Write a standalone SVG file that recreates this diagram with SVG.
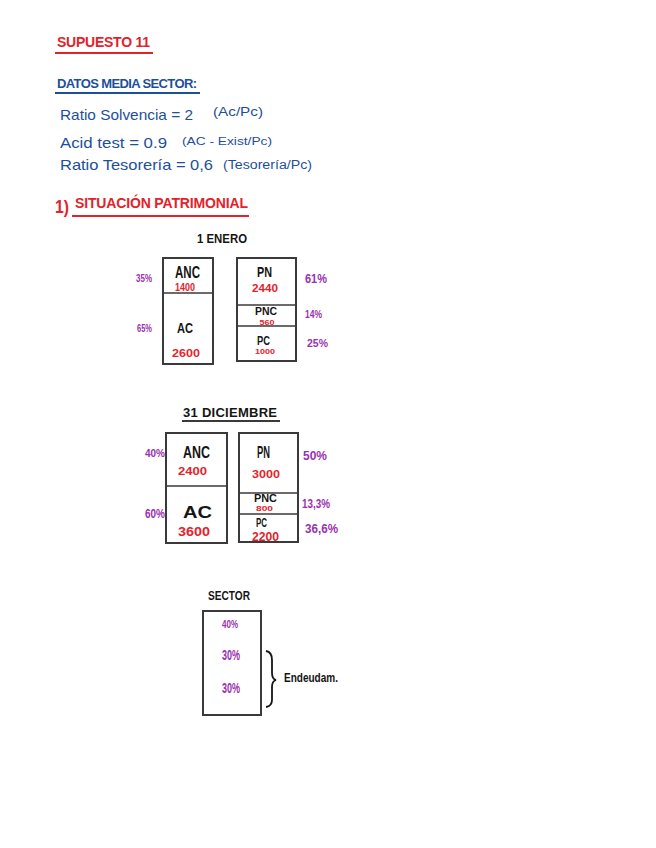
<svg xmlns="http://www.w3.org/2000/svg" width="656" height="848" viewBox="0 0 656 848">
<style>
text{font-family:"Liberation Sans","DejaVu Sans",sans-serif;}
.red{fill:#e3222b;}
.blue{fill:#1d4f9c;}
.blk{fill:#151515;}
.pur{fill:#9a30b0;}
.b{font-weight:bold;}
.box{fill:none;stroke:#3a3a3a;stroke-width:2;}
.ln{stroke:#3a3a3a;stroke-width:1.6;}
.c{text-anchor:middle;}
</style>
<rect width="656" height="848" fill="#ffffff"/>

<g id="header">
<text x="57" y="47" font-size="14" class="red b" textLength="93" lengthAdjust="spacing">SUPUESTO 11</text>
<line x1="55" y1="53" x2="153" y2="53" stroke="#e3222b" stroke-width="2"/>
<text x="57" y="88" font-size="13" class="blue b" textLength="140" lengthAdjust="spacing">DATOS MEDIA SECTOR:</text>
<line x1="55" y1="93" x2="200" y2="93" stroke="#1d4f9c" stroke-width="2"/>
<text x="60" y="120" font-size="15" class="blue" textLength="133" lengthAdjust="spacingAndGlyphs">Ratio Solvencia = 2</text>
<text x="213" y="116" font-size="12" class="blue" textLength="50" lengthAdjust="spacingAndGlyphs">(Ac/Pc)</text>
<text x="60" y="148" font-size="15" class="blue" textLength="107" lengthAdjust="spacingAndGlyphs">Acid test = 0.9</text>
<text x="182" y="145" font-size="11" class="blue" textLength="90" lengthAdjust="spacingAndGlyphs">(AC - Exist/Pc)</text>
<text x="60" y="170" font-size="15" class="blue" textLength="153" lengthAdjust="spacingAndGlyphs">Ratio Tesorería = 0,6</text>
<text x="223" y="169" font-size="12" class="blue" textLength="89" lengthAdjust="spacingAndGlyphs">(Tesorería/Pc)</text>
<text x="55" y="213" font-size="19" class="red b" textLength="14" lengthAdjust="spacingAndGlyphs">1)</text>
<text x="75" y="208" font-size="14" class="red b" textLength="173" lengthAdjust="spacing">SITUACIÓN PATRIMONIAL</text>
<line x1="72" y1="216" x2="249" y2="216" stroke="#e3222b" stroke-width="2"/>
</g>

<g id="enero-title">
<text x="197" y="243" font-size="13" class="blk b" textLength="50" lengthAdjust="spacingAndGlyphs">1 ENERO</text>
</g>

<g id="enero-activo">
<rect x="163" y="258" width="50" height="106" class="box"/>
<line x1="163" y1="293" x2="213" y2="293" class="ln"/>
<text x="187.5" y="278" font-size="16" class="blk b c" textLength="25" lengthAdjust="spacingAndGlyphs">ANC</text>
<text x="185" y="291" font-size="11" class="red b c" textLength="20" lengthAdjust="spacingAndGlyphs">1400</text>
<text x="185" y="333" font-size="15" class="blk b c" textLength="16" lengthAdjust="spacingAndGlyphs">AC</text>
<text x="186" y="357" font-size="11" class="red b c" textLength="28" lengthAdjust="spacingAndGlyphs">2600</text>
<text x="136" y="282" font-size="10" class="pur b" textLength="16" lengthAdjust="spacingAndGlyphs">35%</text>
<text x="137" y="332" font-size="11" class="pur b" textLength="15" lengthAdjust="spacingAndGlyphs">65%</text>
</g>

<g id="enero-pasivo">
<rect x="237" y="258" width="59" height="103" class="box"/>
<line x1="237" y1="305" x2="296" y2="305" class="ln"/>
<line x1="237" y1="326" x2="296" y2="326" class="ln"/>
<text x="264.5" y="277" font-size="15" class="blk b c" textLength="15" lengthAdjust="spacingAndGlyphs">PN</text>
<text x="265" y="292" font-size="11" class="red b c" textLength="26" lengthAdjust="spacingAndGlyphs">2440</text>
<text x="266" y="315" font-size="11" class="blk b c" textLength="22" lengthAdjust="spacingAndGlyphs">PNC</text>
<text x="267" y="324.5" font-size="8" class="red b c" textLength="15" lengthAdjust="spacingAndGlyphs">560</text>
<text x="263.5" y="345" font-size="13" class="blk b c" textLength="13" lengthAdjust="spacingAndGlyphs">PC</text>
<text x="265" y="353.5" font-size="7" class="red b c" textLength="20" lengthAdjust="spacingAndGlyphs">1000</text>
<text x="305" y="283" font-size="12" class="pur b" textLength="22" lengthAdjust="spacingAndGlyphs">61%</text>
<text x="305" y="318" font-size="10" class="pur b" textLength="17" lengthAdjust="spacingAndGlyphs">14%</text>
<text x="307" y="347" font-size="11" class="pur b" textLength="21" lengthAdjust="spacingAndGlyphs">25%</text>
</g>

<g id="diciembre-title">
<text x="183" y="417" font-size="13" class="blk b" textLength="94" lengthAdjust="spacing">31 DICIEMBRE</text>
<line x1="182" y1="421" x2="280" y2="421" stroke="#3a3a3a" stroke-width="2"/>
</g>

<g id="diciembre-activo">
<rect x="166" y="433" width="61" height="110" class="box"/>
<line x1="166" y1="486" x2="227" y2="486" class="ln"/>
<text x="196.5" y="458" font-size="17" class="blk b c" textLength="27" lengthAdjust="spacingAndGlyphs">ANC</text>
<text x="192.5" y="475" font-size="11" class="red b c" textLength="29" lengthAdjust="spacingAndGlyphs">2400</text>
<text x="197.5" y="518" font-size="17" class="blk b c" textLength="29" lengthAdjust="spacingAndGlyphs">AC</text>
<text x="194" y="536" font-size="12" class="red b c" textLength="32" lengthAdjust="spacingAndGlyphs">3600</text>
<text x="145" y="457" font-size="10" class="pur b" textLength="20" lengthAdjust="spacingAndGlyphs">40%</text>
<text x="145" y="518" font-size="12" class="pur b" textLength="20" lengthAdjust="spacingAndGlyphs">60%</text>
</g>

<g id="diciembre-pasivo">
<rect x="239" y="433" width="59" height="109" class="box"/>
<line x1="239" y1="493" x2="298" y2="493" class="ln"/>
<line x1="239" y1="514" x2="298" y2="514" class="ln"/>
<text x="263.5" y="458" font-size="17" class="blk b c" textLength="13" lengthAdjust="spacingAndGlyphs">PN</text>
<text x="266" y="478" font-size="11" class="red b c" textLength="28" lengthAdjust="spacingAndGlyphs">3000</text>
<text x="265.5" y="502" font-size="10" class="blk b c" textLength="23" lengthAdjust="spacingAndGlyphs">PNC</text>
<text x="264.5" y="511" font-size="7" class="red b c" textLength="17" lengthAdjust="spacingAndGlyphs">800</text>
<text x="261.5" y="527" font-size="12" class="blk b c" textLength="11" lengthAdjust="spacingAndGlyphs">PC</text>
<text x="265.5" y="540.5" font-size="12" class="red b c" textLength="27" lengthAdjust="spacingAndGlyphs">2200</text>
<text x="303" y="460" font-size="13" class="pur b" textLength="24" lengthAdjust="spacingAndGlyphs">50%</text>
<text x="302" y="508" font-size="13" class="pur b" textLength="28" lengthAdjust="spacingAndGlyphs">13,3%</text>
<text x="305" y="533" font-size="13" class="pur b" textLength="33" lengthAdjust="spacingAndGlyphs">36,6%</text>
</g>

<g id="sector">
<text x="208" y="600" font-size="13" class="blk b" textLength="42" lengthAdjust="spacingAndGlyphs">SECTOR</text>
<rect x="203" y="611" width="58" height="104" class="box"/>
<text x="222" y="628" font-size="11" class="pur b" textLength="16" lengthAdjust="spacingAndGlyphs">40%</text>
<text x="222" y="660" font-size="14" class="pur b" textLength="18" lengthAdjust="spacingAndGlyphs">30%</text>
<text x="222" y="693" font-size="14" class="pur b" textLength="18" lengthAdjust="spacingAndGlyphs">30%</text>
</g>

<g id="connectors">
<path d="M266 651 Q272 652 272 660 L272 673 Q272 679 276 680 Q272 681 272 687 L272 700 Q272 706 266 707" fill="none" stroke="#151515" stroke-width="1.8"/>
</g>

<g id="endeudam">
<text x="284" y="682" font-size="13" class="blk b" textLength="54" lengthAdjust="spacingAndGlyphs">Endeudam.</text>
</g>
</svg>
